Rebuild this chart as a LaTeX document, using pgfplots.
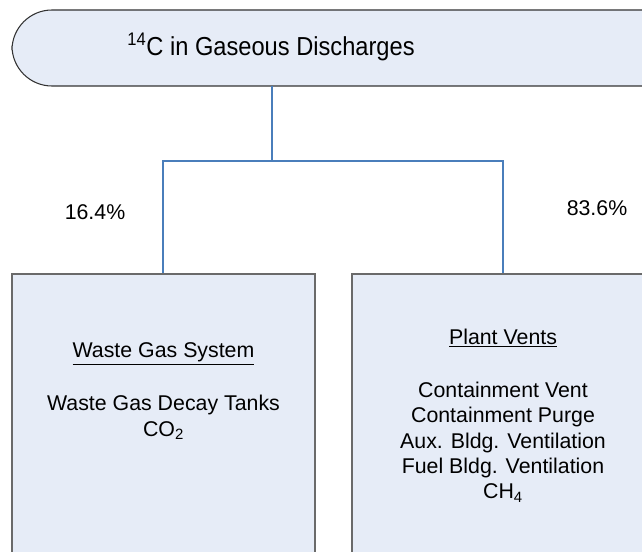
\documentclass[border=0pt]{standalone}
\usepackage{pgfplots}
\pgfplotsset{compat=1.18}
\usepackage{fontspec}
\setmainfont{Liberation Sans}
\definecolor{boxfill}{HTML}{E6ECF7}
\definecolor{boxgray}{HTML}{6A6A6A}
\definecolor{connblue}{HTML}{4A7EBB}
\begin{document}
\begin{tikzpicture}
\begin{axis}[
  scale only axis, width=481.5pt, height=414pt,
  xmin=0, xmax=642, ymin=0, ymax=552, y dir=reverse,
  hide axis, clip mode=global,
]
% frame for the bounding box
\addplot[draw=none] coordinates {(0,0) (642,552)};
% title shape
\addplot[draw=black!80, fill=boxfill, line width=0.8pt, rounded corners=30pt]
  coordinates {(12,48) (12,10) (720,10) (720,86) (12,86) (12,48)};
% connectors
\addplot[connblue, line width=0.8pt] coordinates {(272,86) (272,161)};
\addplot[connblue, line width=0.8pt] coordinates {(163,274) (163,161) (503,161) (503,274)};
% boxes
\addplot[draw=boxgray, fill=boxfill, line width=1.2pt]
  coordinates {(12,620) (12,274) (315,274) (315,620) (12,620)};
\addplot[draw=boxgray, fill=boxfill, line width=1.2pt]
  coordinates {(352,620) (352,274) (700,274) (700,620) (352,620)};
% texts
\node[font=\fontsize{19.5}{22}\selectfont] at (axis cs:271,47) {\scalebox{0.91}[1]{\textsuperscript{14}C in Gaseous Discharges}};
\node[font=\fontsize{16}{19}\selectfont] at (axis cs:95,212) {16.4\%};
\node[font=\fontsize{16}{19}\selectfont] at (axis cs:597,208) {83.6\%};
\node[font=\fontsize{16}{19}\selectfont, align=center, anchor=north] at (axis cs:163.5,338)
  {\underline{Waste Gas System}\\[21pt] Waste Gas Decay Tanks\\ CO\textsubscript{2}};
\node[font=\fontsize{16}{19}\selectfont, align=center, anchor=north] at (axis cs:503,324)
  {\underline{Plant Vents}\\[21pt] Containment Vent\\ Containment Purge\\ Aux. Bldg. Ventilation\\ Fuel Bldg. Ventilation\\ CH\textsubscript{4}};
\end{axis}
\end{tikzpicture}
\end{document}
